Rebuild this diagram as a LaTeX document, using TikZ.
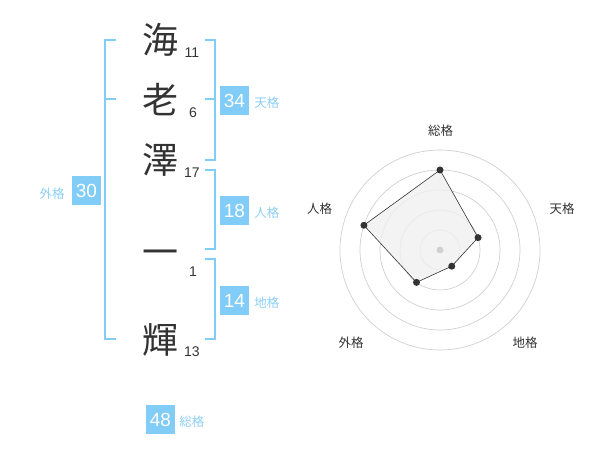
\documentclass[tikz,border=0pt]{standalone}
\usepackage{fontspec}
\setmainfont{Liberation Sans}
\newfontfamily\jp{Noto Sans CJK JP}
\usetikzlibrary{positioning}
\definecolor{sky}{RGB}{130, 205, 248}
\definecolor{skytxt}{RGB}{140, 207, 245}
\definecolor{ink}{RGB}{51, 51, 51}
\definecolor{ring}{RGB}{208, 208, 208}
\definecolor{area}{RGB}{240, 240, 240}

\begin{document}
\begin{tikzpicture}[x=1pt, y=-1pt,
    kanji/.style={font=\jp\fontsize{36}{36}\selectfont, text=ink, inner sep=0pt},
    strokes/.style={font=\fontsize{14}{14}\selectfont, text=ink, inner sep=0pt},
    score/.style={fill=sky, text=white, font=\fontsize{19}{19}\selectfont,
      minimum width=29pt, minimum height=29pt, inner sep=0pt},
    kaku/.style={font=\jp\fontsize{12.5}{12.5}\selectfont, text=skytxt, inner sep=0pt},
    brk/.style={draw=sky, line width=1.6pt},
    axislbl/.style={font=\jp\fontsize{12.5}{12.5}\selectfont, text=ink, inner sep=0pt}]
      \useasboundingbox (0,0) rectangle (600,470);
      % name
      \node[kanji] (k1) at (160, 40) {海};
      \node[kanji] (k2) at (160, 100) {老};
      \node[kanji] (k3) at (160, 160) {澤};
      \node[kanji] (k4) at (160, 258) {一};
      \node[kanji] (k5) at (160, 340) {輝};
      \node[strokes] (n1) at (192, 53) {11};
      \node[strokes] (n2) at (193, 113) {6};
      \node[strokes] (n3) at (192, 173) {17};
      \node[strokes] (n4) at (193, 272) {1};
      \node[strokes] (n5) at (192, 352) {13};
      % brackets
      \draw[brk] (116, 40)--(105, 40)--(105, 339)--(116, 339);
      \draw[brk] (105, 99)--(116, 99);
      \draw[brk] (205, 40)--(215, 40)--(215, 160)--(205, 160);
      \draw[brk] (205, 99)--(215, 99);
      \draw[brk] (205, 170)--(215, 170)--(215, 249)--(205, 249);
      \draw[brk] (205, 259)--(215, 259)--(215, 339)--(205, 339);
      % scores
      \node[score] (ten) at (234.5, 100.5) {34};
      \node[kaku, right=5pt of ten, yshift=-2.5pt] (tenl) {天格};
      \node[score] (jin) at (234.5, 210.5) {18};
      \node[kaku, right=5pt of jin, yshift=-2.5pt] (jinl) {人格};
      \node[score] (chi) at (234.5, 300.5) {14};
      \node[kaku, right=5pt of chi, yshift=-2.5pt] (chil) {地格};
      \node[score] (gai) at (86.5, 190.5) {30};
      \node[kaku, left=7pt of gai, yshift=-3pt] (gail) {外格};
      \node[score] (sou) at (160.5, 419.5) {48};
      \node[kaku, right=4pt of sou, yshift=-2.5pt] (soul) {総格};
      % radar
      \coordinate (c) at (440, 250);
      \foreach \r in {20, 40, 60, 80, 100}
        \draw[ring, line width=0.7pt] (c) circle (\r);
      \foreach \ang/\r/\nm in {-90/80/rsou, -18/40/rten, 54/20/rchi, 126/40/rgai, 198/80/rjin}
        \coordinate (\nm) at ([shift={(\ang:\r)}]c);
      \filldraw[fill=area, fill opacity=0.8, draw=ink, line width=0.6pt]
        (rsou)--(rten)--(rchi)--(rgai)--(rjin)--cycle;
      \fill[ring] (c) circle (3.5);
      \foreach \nm in {rsou, rten, rchi, rgai, rjin}
        \fill[ink] (\nm) circle (3.5);
      \node[axislbl] (asou) at (440.5, 130.5) {総格};
      \node[axislbl] (aten) at (562, 208.5) {天格};
      \node[axislbl] (ajin) at (319.5, 208.5) {人格};
      \node[axislbl] (agai) at (351, 342.5) {外格};
      \node[axislbl] (achi) at (525, 342.5) {地格};
    \end{tikzpicture}
\end{document}
